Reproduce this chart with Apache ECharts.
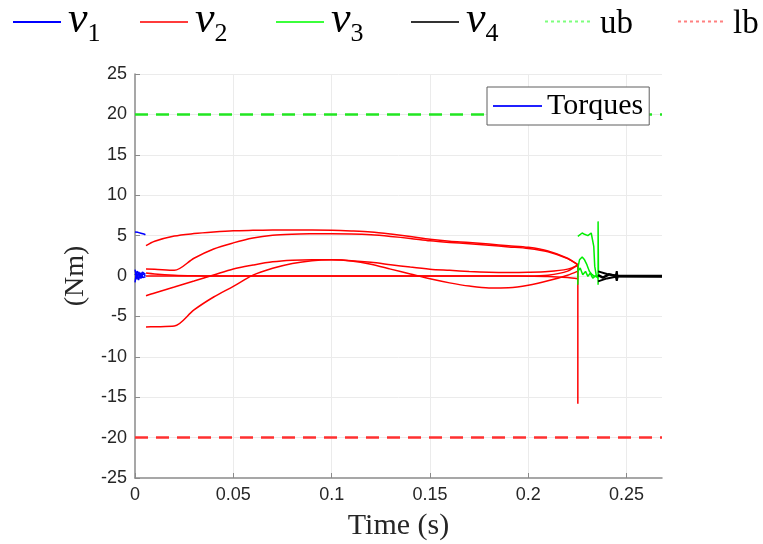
<!DOCTYPE html>
<html><head><meta charset="utf-8">
<script src="https://cdn.jsdelivr.net/npm/echarts@6/dist/echarts.min.js"></script>
<style>html,body{margin:0;padding:0;background:#fff}#c{width:763px;height:544px}</style>
</head><body><div id="c"></div><script>
// ---- data ----
const xTicks = [0, 0.05, 0.1, 0.15, 0.2, 0.25];
const yTicks = [-25, -20, -15, -10, -5, 0, 5, 10, 15, 20, 25];
const xMax = 0.268;
const ubVal = 20, lbVal = -20;

// v1 (blue)
const blue1T = [0, 0.0015, 0.003, 0.0045, 0.0053];
const blue1Y = [5.45, 5.4, 5.3, 5.2, 5.1];
const blue2T = [0, 0.001, 0.002, 0.003, 0.004, 0.0053];
const blue2Y = [0.8, -0.4, 0.5, -0.3, 0.3, 0];
const blue3T = [0, 0.0008, 0.0018, 0.003, 0.004, 0.0053];
const blue3Y = [-0.8, 0.5, -0.5, 0.4, -0.2, -0.1];
const blue4T = [0, 0.0012, 0.0025, 0.0038, 0.0053];
const blue4Y = [0.1, 0.6, -0.2, 0.5, 0.2];

// v2 (red)
const redT = [0.0056,0.01,0.02,0.03,0.04,0.05,0.06,0.07,0.08,0.09,0.1,0.11,0.12,0.13,0.14,0.15,0.16,0.17,0.18,0.19,0.2,0.21,0.22,0.2252];
const redA = [3.75,4.3,4.95,5.25,5.45,5.6,5.65,5.68,5.7,5.7,5.67,5.58,5.45,5.2,4.9,4.55,4.3,4.15,3.95,3.75,3.55,3.1,2.2,1.4];
const redB = [0.87,0.85,0.7,2.2,3.35,4.1,4.7,5.05,5.18,5.22,5.23,5.2,5.1,4.9,4.65,4.35,4.15,4.0,3.8,3.6,3.4,3.0,2.15,1.4];
const redC = [-2.44,-2.1,-1.37,-0.63,0.12,0.87,1.35,1.75,1.95,2.02,2.0,1.9,1.7,1.4,1.1,0.85,0.7,0.55,0.45,0.42,0.45,0.55,0.85,1.3];
const redD = [-6.3,-6.28,-6.2,-4.2,-2.6,-1.28,0.1,0.95,1.55,1.9,2.0,1.85,1.45,0.85,0.25,-0.35,-0.85,-1.25,-1.48,-1.45,-1.15,-0.6,0.1,0.6];
const redE = [0,0,0,0,0,0,0,0,0,0,0,0,0,0,0,0,0,0,0,0,0,0.1,0.6,1.4];
const redF = [0.37,0.25,0.1,0.03,0,0,0,0,0,0,0,0,0,0,0,0,0,0,0,0,-0.02,-0.05,-0.2,-0.35];
const redSpikeT = [0.2252, 0.2252];
const redSpikeY = [1.4, -15.8];

// v3 (green)
const green1T = [0.2252,0.22605,0.2274,0.2286,0.2303,0.232,0.2328,0.2333,0.2338,0.2345,0.2355];
const green1Y = [4.9,5.11,5.32,5.16,5.0,5.32,5.24,3.67,1.19,0.16,-0.05];
const green2T = [0.2252,0.22537,0.22605,0.2274,0.2286,0.2298,0.2311,0.2325,0.2337,0.2355];
const green2Y = [-1.08,1.19,2.0,2.35,2.0,1.4,0.57,0.16,-0.05,-0.05];
const green3T = [0.2252,0.2264,0.2277,0.2291,0.2303,0.2315,0.2328,0.2342,0.2355];
const green3Y = [0.57,0.99,0.16,0.57,-0.05,0.36,-0.26,0.04,-0.26];
const greenSpikeT = [0.2355, 0.2355, 0.2357];
const greenSpikeY = [-1.08, 6.76, 0];

// v4 (black)
const black1T = [0.2355,0.24,0.2445,0.245,0.2453,0.268];
const black1Y = [0.57,0.25,0.05,0.6,0.0,-0.05];
const black2T = [0.2355,0.24,0.2445,0.245,0.2455,0.268];
const black2Y = [-0.66,-0.3,-0.1,-0.6,-0.05,-0.05];
const black3T = [0.2355,0.238,0.241,0.2445,0.268];
const black3Y = [0.1,-0.2,0.2,0,0];

// ---- build ----
const pairs = (xs, ys) => xs.map((x, i) => [x, ys[i]]);
const COL = {v1:'#0000ff', v2:'#ff0000', v3:'#00ee00', v4:'#000000'};
function mk(name, xs, ys, w, sm) {
  return {type:'line', name, data: pairs(xs, ys), showSymbol:false, symbol:'none', smooth: sm || false,
    lineStyle:{color:COL[name], width:w||1.5}, itemStyle:{color:COL[name]}, z:2};
}
const series = [
  mk('v1', blue1T, blue1Y), mk('v1', blue2T, blue2Y), mk('v1', blue3T, blue3Y), mk('v1', blue4T, blue4Y),
  mk('v2', redT, redA, 1.5, 0.3), mk('v2', redT, redB, 1.5, 0.3), mk('v2', redT, redC, 1.5, 0.3), mk('v2', redT, redD, 1.5, 0.3),
  mk('v2', redT, redE, 1.5, 0.3), mk('v2', redT, redF, 1.5, 0.3), mk('v2', redSpikeT, redSpikeY),
  mk('v3', green1T, green1Y), mk('v3', green2T, green2Y), mk('v3', green3T, green3Y), mk('v3', greenSpikeT, greenSpikeY),
  mk('v4', black1T, black1Y, 2), mk('v4', black2T, black2Y, 2), mk('v4', black3T, black3Y, 2.5),
  {type:'line', name:'ub', data:[[0, ubVal],[xMax, ubVal]], symbol:'none',
    lineStyle:{color:'#22e622', width:2.5, type:[13,8]}, itemStyle:{color:'#22e622'}, z:3},
  {type:'line', name:'lb', data:[[0, lbVal],[xMax, lbVal]], symbol:'none',
    lineStyle:{color:'#ff3030', width:2.5, type:[13,8]}, itemStyle:{color:'#ff3030'}, z:3}
];

const SERIF = "'Liberation Serif', 'DejaVu Serif', serif";
const richV = {
  v:{fontFamily:SERIF, fontStyle:'italic', fontSize:44, lineHeight:44, padding:[0,0,5,0], verticalAlign:'bottom', color:'#000'},
  s:{fontFamily:SERIF, fontSize:26, lineHeight:26, verticalAlign:'bottom', color:'#000'},
  t:{fontFamily:SERIF, fontSize:33, lineHeight:33, color:'#000'}
};
const legendItems = [
  {name:'v1', x:12, top:-2, txt:'{v|v}{s|1}', ls:{color:'#0000ff', width:2, type:'solid'}},
  {name:'v2', x:139, top:-2, txt:'{v|v}{s|2}', ls:{color:'#ff3b3b', width:2, type:'solid'}},
  {name:'v3', x:275, top:-2, txt:'{v|v}{s|3}', ls:{color:'#3bff3b', width:2, type:'solid'}},
  {name:'v4', x:410, top:-2, txt:'{v|v}{s|4}', ls:{color:'#333333', width:2, type:'solid'}},
  {name:'ub', x:544, top:8, txt:'{t|ub}', ls:{color:'#7dff7d', width:2, type:[3,3]}},
  {name:'lb', x:677, top:8, txt:'{t|lb}', ls:{color:'#ff8080', width:2, type:[3,3]}}
];
const hidden = {color:'rgba(0,0,0,0)', borderWidth:0, opacity:0};
const legends = legendItems.map(it => ({
  left: it.x, top: it.top, padding: 0, itemWidth: 48, itemHeight: 14, itemGap: 0, selectedMode: false,
  data: [{name: it.name, lineStyle: it.ls, itemStyle: hidden}],
  formatter: () => it.txt,
  textStyle: {rich: richV, padding:[6,0,0,2]}
}));
legends.push({
  left: 487, top: 87, padding:[4,6,4,5], backgroundColor:'#fff', borderColor:'#5f5f5f', borderWidth:1,
  itemWidth:49, itemHeight:14, selectedMode:false,
  data:[{name:'v1', lineStyle:{color:'#2020ff', width:2, type:'solid'}, itemStyle: hidden}],
  formatter: () => 'Torques',
  textStyle:{fontFamily:SERIF, fontSize:30, color:'#000'}
});

const axisCol = '#8a8a8a';
const chart = echarts.init(document.getElementById('c'), null, {renderer:'canvas'});
chart.setOption({
  animation:false,
  backgroundColor:'#fff',
  grid:{left:135, right:101, top:74, bottom:66, outerBoundsMode:'none', containLabel:false},
  legend: legends,
  xAxis:{type:'value', min:xTicks[0], max:xMax, interval:0.05,
    name:'Time (s)', nameLocation:'middle', nameGap:33,
    nameTextStyle:{fontFamily:SERIF, fontSize:30, color:'#262626'},
    axisLine:{show:true, onZero:false, lineStyle:{color:axisCol, width:1.5}},
    axisTick:{show:true, inside:true, length:5, lineStyle:{color:axisCol}},
    axisLabel:{show:true, showMaxLabel:false, margin:8, fontFamily:"'Liberation Sans', Arial, sans-serif", fontSize:18, color:'#262626',
      formatter: v => (xTicks.includes(+v.toFixed(3)) ? String(+v.toFixed(3)) : '')},
    splitLine:{show:true, showMinLine:false, showMaxLine:false, lineStyle:{color:'#ebebeb', width:1}}},
  yAxis:{type:'value', min:yTicks[0], max:yTicks[yTicks.length-1], interval:5,
    name:'(Nm)', nameLocation:'middle', nameGap:32, nameRotate:90,
    nameTextStyle:{fontFamily:SERIF, fontSize:28, color:'#262626'},
    axisLine:{show:true, onZero:false, lineStyle:{color:axisCol, width:1.5}},
    axisTick:{show:true, inside:true, length:5, lineStyle:{color:axisCol}},
    axisLabel:{margin:8, fontFamily:"'Liberation Sans', Arial, sans-serif", fontSize:18, color:'#262626'},
    splitLine:{show:true, showMinLine:false, lineStyle:{color:'#ebebeb', width:1}}},
  series
});
</script></body></html>
